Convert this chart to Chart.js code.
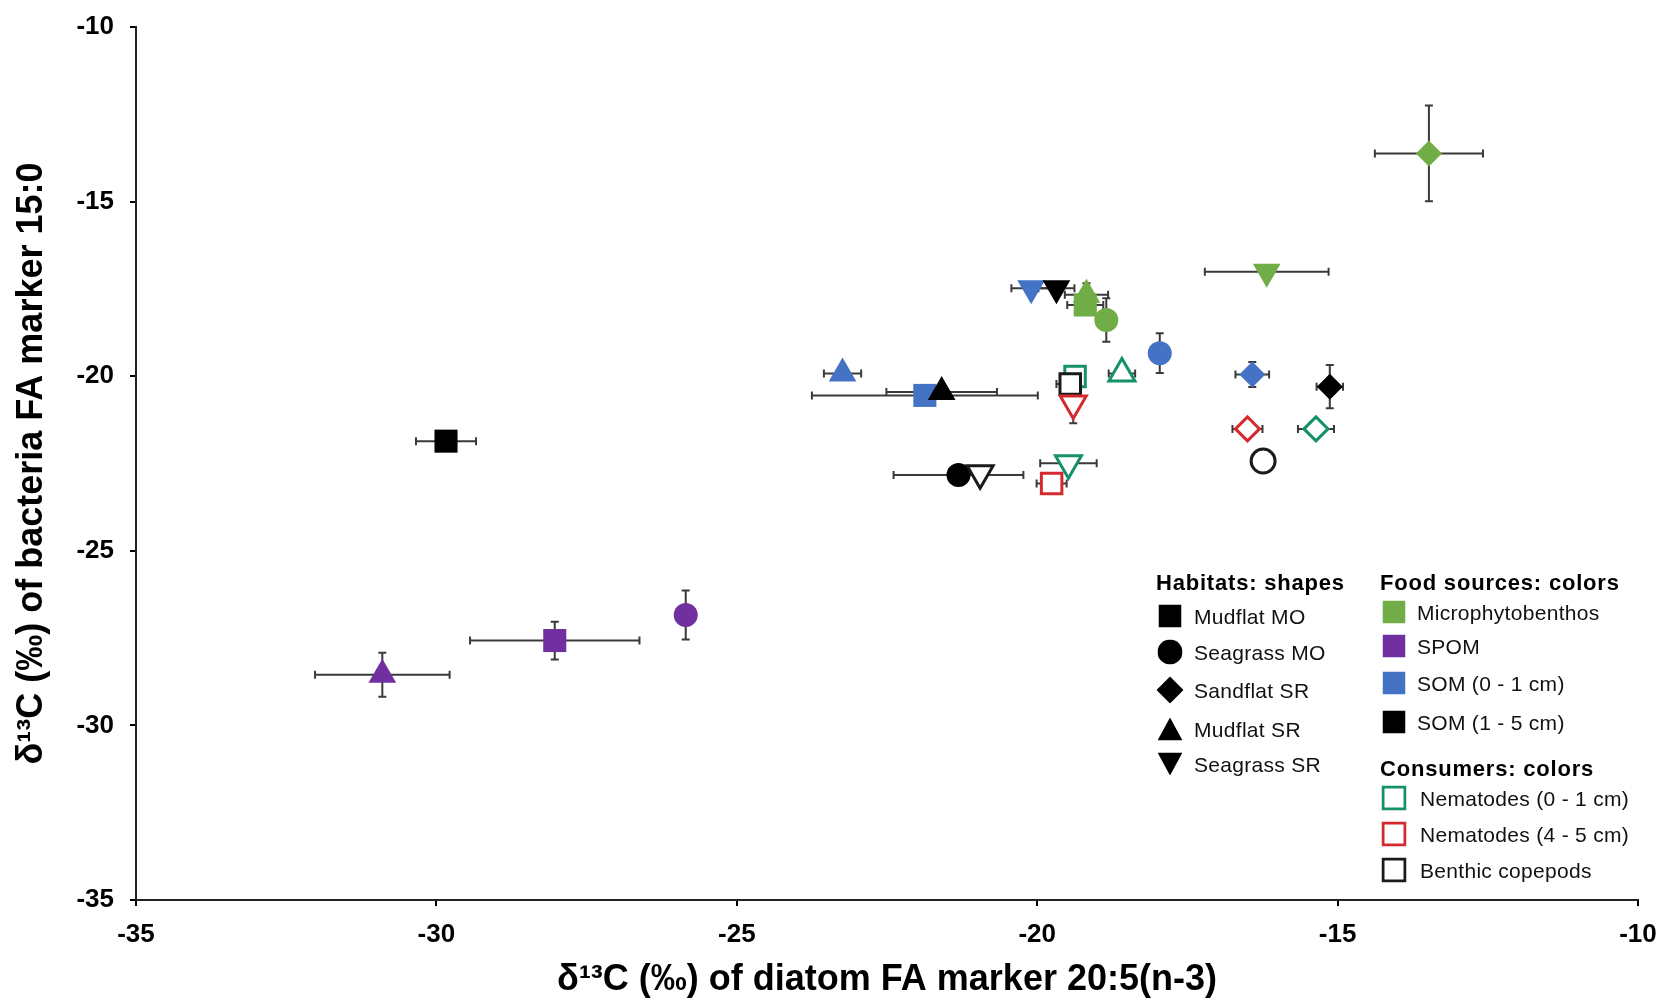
<!DOCTYPE html>
<html><head><meta charset="utf-8">
<script src="https://cdn.jsdelivr.net/npm/chart.js@4.4.1/dist/chart.umd.min.js"></script>
<style>
html,body{margin:0;padding:0;background:#fff;}
#wrap{position:relative;width:1657px;height:1000px;overflow:hidden;}
canvas{position:absolute;left:0;top:0;}
.lg{position:absolute;font-family:'Liberation Sans',Arial,sans-serif;color:#111;white-space:nowrap;line-height:1;transform:translateY(-50%);}
.hd{font-weight:bold;font-size:22px;letter-spacing:0.8px;color:#000;}
.it{font-size:21px;letter-spacing:0.3px;}
.sym{position:absolute;transform:translate(-50%,-50%);display:block;}
</style></head><body>
<div id="wrap"><canvas id="c" width="1657" height="1000"></canvas><div id="legend"></div></div>
<script>
// ---------- data ----------
const habitats = ['Mudflat MO', 'Seagrass MO', 'Sandflat SR', 'Mudflat SR', 'Seagrass SR'];
const sourceNames = ['Microphytobenthos', 'SPOM', 'SOM (0 - 1 cm)', 'SOM (1 - 5 cm)'];
const consumerNames = ['Nematodes (0 - 1 cm)', 'Nematodes (4 - 5 cm)', 'Benthic copepods'];
const xTicks = [-35, -30, -25, -20, -15, -10];
const yTicks = [-35, -30, -25, -20, -15, -10];

// Microphytobenthos
const mpbHab  = [0, 1, 2, 3, 4];
const mpbX    = [-19.20, -18.85, -13.48, -19.18, -16.18];
const mpbY    = [-17.96, -18.39, -13.62, -17.67, -17.01];
const mpbXErr = [0.30, 0.15, 0.90, 0.36, 1.03];
const mpbYErr = [0.15, 0.62, 1.37, 0.33, 0.10];

// SPOM
const spomHab  = [0, 1, 3];
const spomX    = [-28.03, -25.85, -30.90];
const spomY    = [-27.57, -26.84, -28.55];
const spomXErr = [1.41, 0.10, 1.12];
const spomYErr = [0.54, 0.70, 0.63];

// SOM (0 - 1 cm)
const som1Hab  = [0, 1, 2, 3, 4];
const som1X    = [-21.87, -17.96, -16.42, -23.24, -20.10];
const som1Y    = [-20.55, -19.34, -19.95, -19.92, -17.48];
const som1XErr = [1.88, 0.15, 0.28, 0.31, 0.33];
const som1YErr = [0.10, 0.57, 0.36, 0.12, 0.10];

// SOM (1 - 5 cm)
const som5Hab  = [0, 1, 2, 3, 4];
const som5X    = [-29.84, -21.31, -15.13, -21.59, -19.68];
const som5Y    = [-21.86, -22.83, -20.30, -20.45, -17.48];
const som5XErr = [0.50, 1.08, 0.22, 0.92, 0.30];
const som5YErr = [0.20, 0.10, 0.62, 0.20, 0.10];

// Nematodes (0 - 1 cm)
const nem1Hab  = [0, 2, 3, 4];
const nem1X    = [-19.37, -15.36, -18.59, -19.48];
const nem1Y    = [-20.01, -21.51, -19.92, -22.49];
const nem1XErr = [0.10, 0.30, 0.22, 0.47];
const nem1YErr = [0, 0, 0, 0];

// Nematodes (4 - 5 cm)
const nem5Hab  = [0, 2, 4];
const nem5X    = [-19.76, -16.50, -19.40];
const nem5Y    = [-23.07, -21.51, -20.78];
const nem5XErr = [0.25, 0.25, 0];
const nem5YErr = [0, 0, 0.57];

// Benthic copepods
const copHab  = [0, 1, 4];
const copX    = [-19.45, -16.24, -20.95];
const copY    = [-20.22, -22.43, -22.78];
const copXErr = [0.23, 0, 0];
const copYErr = [0.10, 0, 0];

// ---------- styles ----------
const sourceColors = ['#70ad47', '#7030a0', '#4472c4', '#000000'];
const consumerColors = ['#14906b', '#d42a2f', '#1a1a1a'];
const shapeStyle = ['rect', 'circle', 'rectRot', 'triangle', 'triangle'];
const shapeRot = [0, 0, 0, 0, 180];
const filledRadius = [16.3, 12, 13, 16, 16];
const hollowRadius = [14.5, 12, 12, 15, 15];

function makeSet(label, hab, xs, ys, xe, ye, color, hollow, order) {
  return {
    label: label,
    data: xs.map((v, i) => ({x: v, y: ys[i], xErr: xe[i], yErr: ye[i]})),
    pointStyle: hab.map(h => shapeStyle[h]),
    rotation: hab.map(h => shapeRot[h]),
    pointRadius: hab.map(h => hollow ? hollowRadius[h] : filledRadius[h]),
    backgroundColor: hollow ? '#ffffff' : color,
    borderColor: color,
    borderWidth: hollow ? 3 : 0,
    showLine: false,
    order: order
  };
}

const datasets = [
  makeSet(sourceNames[0], mpbHab, mpbX, mpbY, mpbXErr, mpbYErr, sourceColors[0], false, 7),
  makeSet(sourceNames[1], spomHab, spomX, spomY, spomXErr, spomYErr, sourceColors[1], false, 6),
  makeSet(sourceNames[2], som1Hab, som1X, som1Y, som1XErr, som1YErr, sourceColors[2], false, 5),
  makeSet(sourceNames[3], som5Hab, som5X, som5Y, som5XErr, som5YErr, sourceColors[3], false, 4),
  makeSet(consumerNames[0], nem1Hab, nem1X, nem1Y, nem1XErr, nem1YErr, consumerColors[0], true, 3),
  makeSet(consumerNames[2], copHab, copX, copY, copXErr, copYErr, consumerColors[2], true, 2),
  makeSet(consumerNames[1], nem5Hab, nem5X, nem5Y, nem5XErr, nem5YErr, consumerColors[1], true, 1)
];

const errorBars = {
  id: 'errorBars',
  beforeDatasetsDraw(chart) {
    const ctx = chart.ctx, xs = chart.scales.x, ys = chart.scales.y;
    const cap = 4;
    ctx.save();
    ctx.strokeStyle = '#3a3a3a';
    ctx.lineWidth = 2;
    chart.data.datasets.forEach(ds => {
      ds.data.forEach(p => {
        const px = xs.getPixelForValue(p.x), py = ys.getPixelForValue(p.y);
        ctx.beginPath();
        if (p.xErr) {
          const x1 = xs.getPixelForValue(p.x - p.xErr), x2 = xs.getPixelForValue(p.x + p.xErr);
          ctx.moveTo(x1, py); ctx.lineTo(x2, py);
          ctx.moveTo(x1, py - cap); ctx.lineTo(x1, py + cap);
          ctx.moveTo(x2, py - cap); ctx.lineTo(x2, py + cap);
        }
        if (p.yErr) {
          const y1 = ys.getPixelForValue(p.y - p.yErr), y2 = ys.getPixelForValue(p.y + p.yErr);
          ctx.moveTo(px, y1); ctx.lineTo(px, y2);
          ctx.moveTo(px - cap, y1); ctx.lineTo(px + cap, y1);
          ctx.moveTo(px - cap, y2); ctx.lineTo(px + cap, y2);
        }
        ctx.stroke();
      });
    });
    ctx.restore();
  }
};

const FONT = "'Liberation Sans', Arial, sans-serif";

function axis(ticksArr, titleText, isX) {
  return {
    type: 'linear',
    min: ticksArr[0],
    max: ticksArr[ticksArr.length - 1],
    afterBuildTicks: s => { s.ticks = ticksArr.map(v => ({value: v})); },
    afterFit: s => {
      if (isX) { s.height = 100; s.paddingRight = 19; s.paddingLeft = 0; }
      else { s.width = 136; s.paddingTop = 0; s.paddingBottom = 0; }
    },
    grid: {display: true, drawOnChartArea: false, drawTicks: true, tickLength: 6, color: '#000', lineWidth: 2},
    border: {display: true, color: '#222', width: 2},
    ticks: {
      color: '#000',
      font: {family: FONT, size: 26, weight: 'bold'},
      padding: isX ? 13 : 16,
      autoSkip: false,
      maxRotation: 0
    },
    title: {
      display: true,
      text: titleText,
      color: '#000',
      font: {family: FONT, size: 36, weight: 'bold', lineHeight: 1},
      padding: isX ? {top: 0, bottom: 2} : {top: 14, bottom: 0}
    }
  };
}

new Chart(document.getElementById('c'), {
  type: 'scatter',
  data: {datasets: datasets},
  options: {
    responsive: false,
    animation: false,
    events: [],
    devicePixelRatio: 1,
    layout: {padding: {left: 0, right: 0, top: 27, bottom: 0}},
    plugins: {legend: {display: false}, tooltip: {enabled: false}},
    scales: {
      x: axis(xTicks, 'δ¹³C (‰) of diatom FA marker 20:5(n-3)', true),
      y: axis(yTicks, 'δ¹³C (‰) of bacteria FA marker 15:0', false)
    }
  },
  plugins: [errorBars]
});

// ---------- legend (HTML) ----------
const lg = document.getElementById('legend');
function addText(txt, x, y, cls) {
  const d = document.createElement('div');
  d.className = 'lg ' + cls;
  d.style.left = x + 'px'; d.style.top = y + 'px';
  d.textContent = txt;
  lg.appendChild(d);
}
function addSvg(inner, cx, cy, w, h) {
  const ns = 'http://www.w3.org/2000/svg';
  const s = document.createElementNS(ns, 'svg');
  s.setAttribute('width', w); s.setAttribute('height', h);
  s.setAttribute('class', 'sym');
  s.style.left = cx + 'px'; s.style.top = cy + 'px';
  s.innerHTML = inner;
  lg.appendChild(s);
}
const shapeSvg = [
  ['<rect x="0" y="0" width="23" height="23" fill="#000"/>', 23, 23],
  ['<circle cx="12.5" cy="12.5" r="12.5" fill="#000"/>', 25, 25],
  ['<polygon points="13.5,0 27,13.5 13.5,27 0,13.5" fill="#000"/>', 27, 27],
  ['<polygon points="12.5,0 25,23 0,23" fill="#000"/>', 25, 23],
  ['<polygon points="0,0 25,0 12.5,23" fill="#000"/>', 25, 23]
];
const habRowsY = [616, 652, 690, 729, 764];
addText('Habitats: shapes', 1156, 583, 'hd');
habitats.forEach((h, i) => {
  addSvg(shapeSvg[i][0], 1170, habRowsY[i], shapeSvg[i][1], shapeSvg[i][2]);
  addText(h, 1194, habRowsY[i], 'it');
});
const srcRowsY = [612, 646, 683, 722];
addText('Food sources: colors', 1380, 583, 'hd');
sourceNames.forEach((n, i) => {
  addSvg('<rect x="0" y="0" width="23" height="23" fill="' + sourceColors[i] + '"/>', 1394, srcRowsY[i], 23, 23);
  addText(n, 1417, srcRowsY[i], 'it');
});
const conRowsY = [798, 834, 870];
addText('Consumers: colors', 1380, 769, 'hd');
consumerNames.forEach((n, i) => {
  addSvg('<rect x="1.5" y="1.5" width="22" height="22" fill="#fff" stroke="' + consumerColors[i] + '" stroke-width="3"/>', 1394, conRowsY[i], 25, 25);
  addText(n, 1420, conRowsY[i], 'it');
});
</script>
</body></html>
